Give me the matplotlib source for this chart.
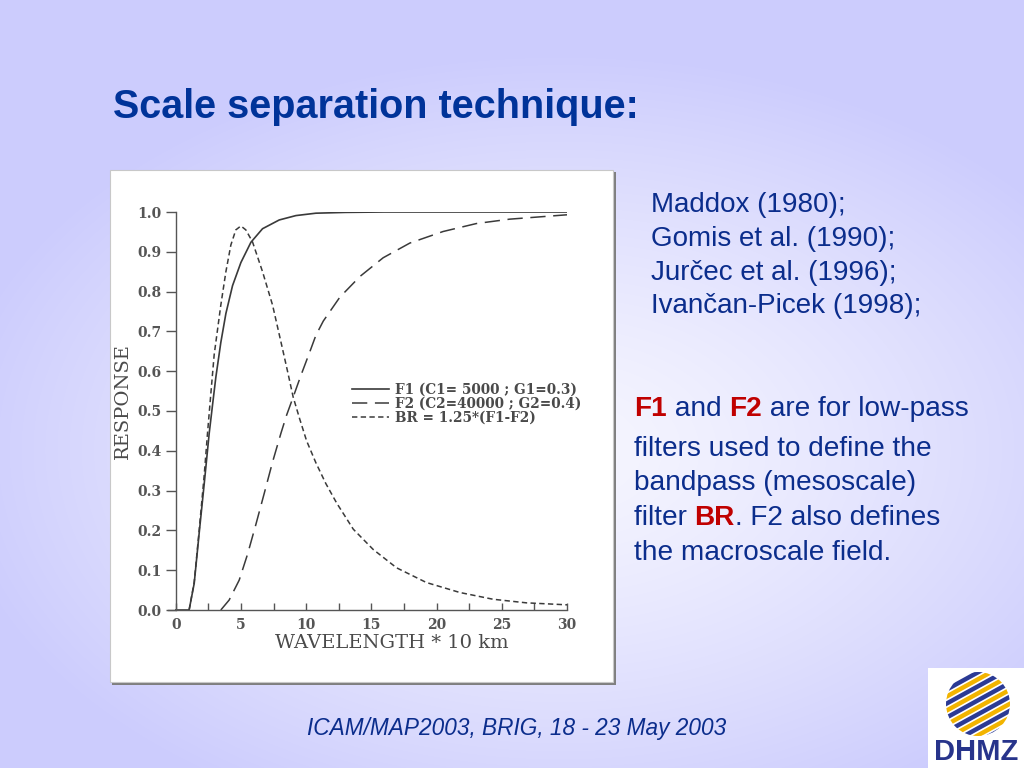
import numpy as np
import matplotlib
matplotlib.use('Agg')
import matplotlib.pyplot as plt
from matplotlib.patches import Rectangle, Circle

# Filter response curves (wavelength in units of 10 km)
f1_x = [0, 1.02, 1.41, 1.79, 2.18, 2.56, 2.84, 3.07, 3.45, 3.84, 4.35, 4.99, 5.76, 6.65, 7.93, 9.21, 10.74, 13.0, 16.0, 30]
f1_y = [0, 0, 0.067, 0.193, 0.318, 0.444, 0.522, 0.585, 0.672, 0.745, 0.815, 0.873, 0.924, 0.958, 0.980, 0.991, 0.997, 0.999, 1.0, 1.0]

f2_x = [3.45, 4.09, 4.86, 5.50, 6.14, 6.78, 7.42, 8.06, 8.50, 9.00, 9.60, 10.29, 10.74, 11.31, 12.58, 14.12, 15.9, 17.95, 20.5, 23.05, 25.6, 30]
f2_y = [0, 0.025, 0.075, 0.140, 0.215, 0.293, 0.372, 0.444, 0.490, 0.535, 0.590, 0.650, 0.690, 0.726, 0.786, 0.838, 0.885, 0.922, 0.951, 0.971, 0.982, 0.993]

br_x = [1.02, 1.41, 1.79, 2.18, 2.43, 2.65, 2.94, 3.45, 3.84, 4.22, 4.60, 4.99, 5.37, 5.88, 6.65, 7.42, 8.19, 8.60, 9.00,
        9.50, 10.03, 10.74, 11.50, 12.33, 13.61, 15.14, 16.93, 19.22, 21.78, 24.33, 26.88, 30]
br_y = [0, 0.070, 0.200, 0.340, 0.444, 0.530, 0.641, 0.766, 0.850, 0.917, 0.955, 0.965, 0.955, 0.925, 0.850, 0.766, 0.655, 0.595, 0.535,
        0.480, 0.425, 0.370, 0.318, 0.269, 0.203, 0.152, 0.106, 0.069, 0.044, 0.027, 0.018, 0.013]

labels = ['F1 (C1= 5000 ; G1=0.3)', 'F2 (C2=40000 ; G2=0.4)', 'BR = 1.25*(F1-F2)']

title = 'Scale separation technique:'
refs = ['Maddox (1980);', 'Gomis et al. (1990);', 'Jurčec et al. (1996);', 'Ivančan-Picek (1998);']
footer = 'ICAM/MAP2003, BRIG, 18 - 23 May 2003'

W, H = 1024, 768
navy = '#0b2d8c'
red = '#c00000'
ink = '#4a4a4a'

fig = plt.figure(figsize=(W / 100, H / 100), dpi=100)

# slide background: light centre fading to lavender
bg = fig.add_axes([0, 0, 1, 1])
yy, xx = np.mgrid[0:H, 0:W]
t = np.sqrt(((xx - 560) / 620.0) ** 2 + ((yy - 450) / 400.0) ** 2)
t = np.clip(t, 0, 1) ** 1.3
light = np.array([246, 246, 255]) / 255.0
lav = np.array([204, 204, 253]) / 255.0
img = light[None, None, :] * (1 - t[..., None]) + lav[None, None, :] * t[..., None]
bg.imshow(img, extent=[0, W, H, 0], aspect='auto')
bg.set_xlim(0, W)
bg.set_ylim(H, 0)
bg.axis('off')

# chart frame with shadow
bg.add_patch(Rectangle((112, 172), 504, 513, facecolor='#7f7f7f', edgecolor='none'))
bg.add_patch(Rectangle((110, 170), 503, 512, facecolor='white', edgecolor='#c8c8c8', linewidth=0.8))

# title and side text
bg.text(113, 107, title, fontsize=28.5, fontweight='bold', color='#003399',
        family='Liberation Sans', va='center', ha='left')
for txt, yb in zip(refs, [212, 246, 280, 313]):
    bg.text(651, yb, txt, fontsize=20, color=navy, family='Liberation Sans', va='baseline')

para = [
    [('F1', True), (' and ', False), ('F2', True), (' are for low-pass', False)],
    [('filters used to define the', False)],
    [('bandpass (mesoscale)', False)],
    [('filter ', False), ('BR', True), ('. F2 also defines', False)],
    [('the macroscale field.', False)],
]
for parts, yb in zip(para, [416, 456, 490, 525, 560]):
    prev = None
    for s, hl in parts:
        kw = dict(fontsize=20.2, family='Liberation Sans', color=red if hl else navy,
                  fontweight='bold' if hl else 'normal', ha='left')
        if prev is None:
            prev = bg.text(634, yb, s, va='baseline', **kw)
        else:
            # chain the next piece onto the end of the previous one
            prev = bg.annotate(s, xy=(1, 0), xycoords=prev, va='bottom', **kw)
bg.text(517, 728, footer, fontsize=16.3, style='italic', color=navy,
        family='Liberation Sans', ha='center', va='center')

# the response plot
x0, x1 = 168, 567
ax = fig.add_axes([x0 / W, 1 - 610 / H, (x1 - x0) / W, 398 / H])
ax.patch.set_alpha(0)
line_c = '#3a3a3a'
ax.plot(f1_x, f1_y, color=line_c, lw=1.2, label=labels[0])
ax.plot(f2_x, f2_y, color=line_c, lw=1.1, dashes=(10, 5), label=labels[1])
ax.plot(br_x, br_y, color=line_c, lw=1.1, dashes=(3.5, 2.2), label=labels[2])
ax.set_xlim(-0.6, 30)
ax.set_ylim(0, 1.0)
ax.spines['left'].set_position(('data', 0))
ax.spines['top'].set_visible(False)
ax.spines['right'].set_visible(False)
for sp in ['left', 'bottom']:
    ax.spines[sp].set_color('#555555')
    ax.spines[sp].set_linewidth(1.0)
ax.set_xticks(np.arange(0, 31, 5))
ax.set_xticks(np.arange(2.5, 30, 5), minor=True)
ax.set_yticks(np.arange(0, 1.01, 0.1))
ax.set_yticklabels(['%.1f' % v for v in np.arange(0, 1.01, 0.1)])
ax.tick_params(axis='x', which='both', direction='in', length=5, width=1, color='#555555', pad=6)
ax.tick_params(axis='y', direction='out', length=7, width=1, color='#555555', pad=3)
for lab in ax.get_xticklabels() + ax.get_yticklabels():
    lab.set_family('DejaVu Serif')
    lab.set_fontsize(10)
    lab.set_fontweight('bold')
    lab.set_color('#555555')

ax.set_xlabel('WAVELENGTH * 10 km', family='DejaVu Serif', fontsize=14, color=ink, va='center')
ax.xaxis.set_label_coords((392 - x0) / (x1 - x0), (610 - 643) / 398)
ax.set_ylabel('RESPONSE', family='DejaVu Serif', fontsize=14, color=ink, va='center')
ax.yaxis.set_label_coords((123 - x0) / (x1 - x0), (610 - 401) / 398)

leg = ax.legend(loc='upper left', bbox_to_anchor=(13.5, 0.572), bbox_transform=ax.transData,
                frameon=False, borderpad=0, borderaxespad=0, handlelength=2.7, handletextpad=0.5,
                labelspacing=0.0, prop={'family': 'DejaVu Serif', 'size': 9.8, 'weight': 'bold'})
for txt in leg.get_texts():
    txt.set_color(ink)

# DHMZ logo box
lg = fig.add_axes([928 / W, 0, 96 / W, 100 / H])
lg.set_xlim(0, 96)
lg.set_ylim(0, 100)
lg.add_patch(Rectangle((0, 0), 96, 100, facecolor='white', edgecolor='none'))
circ = Circle((50, 64), 32, transform=lg.transData)
cols = ['#f2b400', '#2b3a94']
for i, c0 in enumerate(np.arange(20, 115, 7)):
    xs = np.array([0, 96])
    ln, = lg.plot(xs, c0 + 0.55 * (xs - 96) + 10, color=cols[i % 2], lw=3.2, solid_capstyle='butt')
    ln.set_clip_path(circ)
lg.text(48, 16, 'DHMZ', fontsize=21, fontweight='bold', color='#27348b',
        family='Liberation Sans', ha='center', va='center')
lg.axis('off')

fig.savefig('out.png', dpi=100)
